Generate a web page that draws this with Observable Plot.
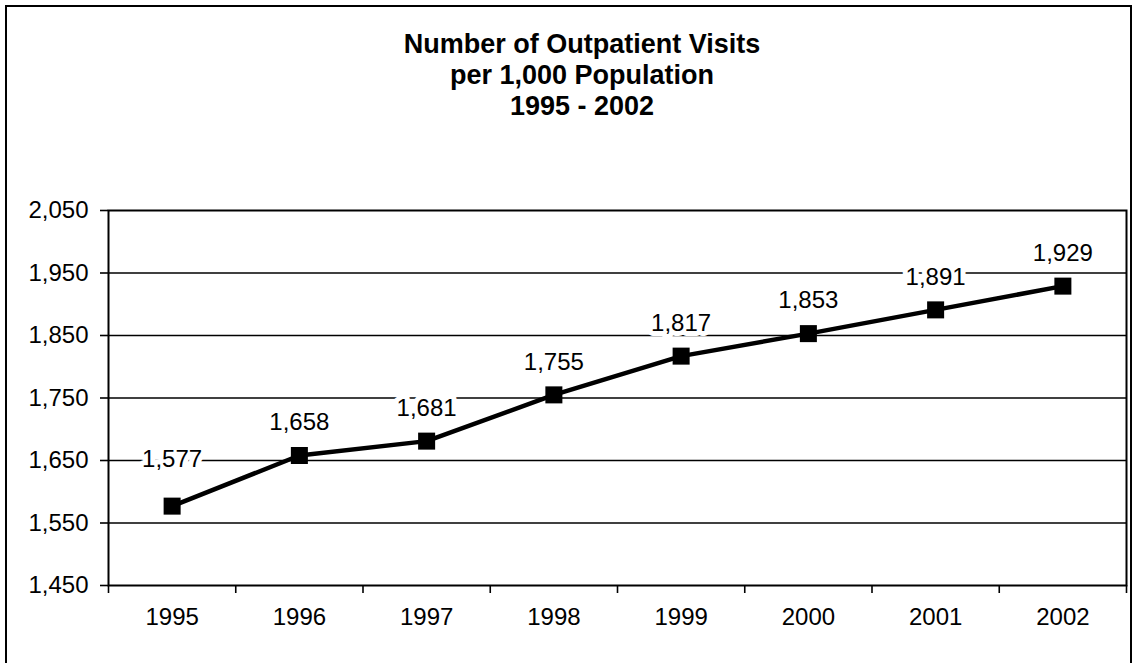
<!DOCTYPE html>
<html>
<head>
<meta charset="utf-8">
<script src="https://cdn.jsdelivr.net/npm/d3@7"></script>
<script src="https://cdn.jsdelivr.net/npm/@observablehq/plot@0.6"></script>
<style>
  html, body { margin: 0; padding: 0; background: #fff; overflow: hidden; width: 1134px; height: 663px; }
  #frame { position: absolute; left: 5px; top: 5px; width: 1127px; height: 700px; border: 2px solid #000; box-sizing: border-box; }
  #title { position: absolute; left: 0; width: 1164px; top: 29px; text-align: center; font-family: "Liberation Sans", Arial, sans-serif; font-weight: bold; font-size: 27px; line-height: 31px; color: #000; }
  #chart { position: absolute; left: 0; top: 150px; }
</style>
</head>
<body>
<div id="frame"></div>
<div id="title">Number of Outpatient Visits<br>per 1,000 Population<br>1995 - 2002</div>
<div id="chart"></div>
<script>
const years = [1995, 1996, 1997, 1998, 1999, 2000, 2001, 2002];
const visits = [1577, 1658, 1681, 1755, 1817, 1853, 1891, 1929];
const yTicks = [1450, 1550, 1650, 1750, 1850, 1950, 2050];
const gridValues = [1550, 1650, 1750, 1850, 1950];
const boundaries = years.map(y => y - 0.5).concat([years[years.length - 1] + 0.5]);

const data = years.map((y, i) => ({year: y, value: visits[i], first: i === 0}));
const font = "Liberation Sans, Arial, sans-serif";
const fmt = d3.format(",");

const chart = Plot.plot({
  width: 1134,
  height: 513,
  marginTop: 60,
  marginBottom: 78,
  marginLeft: 108,
  marginRight: 8,
  style: {fontFamily: font, fontSize: "24px", color: "#000", background: "transparent"},
  x: {type: "linear", domain: [1994.5, 2002.5], label: null},
  y: {domain: [1450, 2050], label: null},
  marks: [
    Plot.ruleY(gridValues, {stroke: "#000", strokeWidth: 1.6}),
    Plot.frame({stroke: "#000", strokeWidth: 2}),
    Plot.axisY({ticks: yTicks, label: null, tickSize: 8, tickPadding: 12, tickFormat: fmt, fontSize: 24, stroke: "#000", strokeWidth: 1.6, fill: "#000"}),
    Plot.axisX({ticks: boundaries, label: null, tickSize: 8, tickFormat: () => "", stroke: "#000", strokeWidth: 1.6}),
    Plot.axisX({ticks: years, label: null, tickSize: 0, tickPadding: 22, tickFormat: d => String(d), fontSize: 24, fill: "#000"}),
    Plot.line(data, {x: "year", y: "value", stroke: "#000", strokeWidth: 4.5}),
    Plot.dot(data, {x: "year", y: "value", symbol: "square", r: 9.6, fill: "#000", stroke: "none"}),
    Plot.text(data.filter(d => d.first), {x: "year", y: "value", text: d => fmt(d.value), dy: -47, fontSize: 24, fill: "#000", stroke: "#fff", strokeWidth: 10, paintOrder: "stroke", fontFamily: font}),
    Plot.text(data.filter(d => !d.first), {x: "year", y: "value", text: d => fmt(d.value), dy: -33, fontSize: 24, fill: "#000", stroke: "#fff", strokeWidth: 10, paintOrder: "stroke", fontFamily: font})
  ]
});
document.getElementById("chart").appendChild(chart);
</script>
</body>
</html>
